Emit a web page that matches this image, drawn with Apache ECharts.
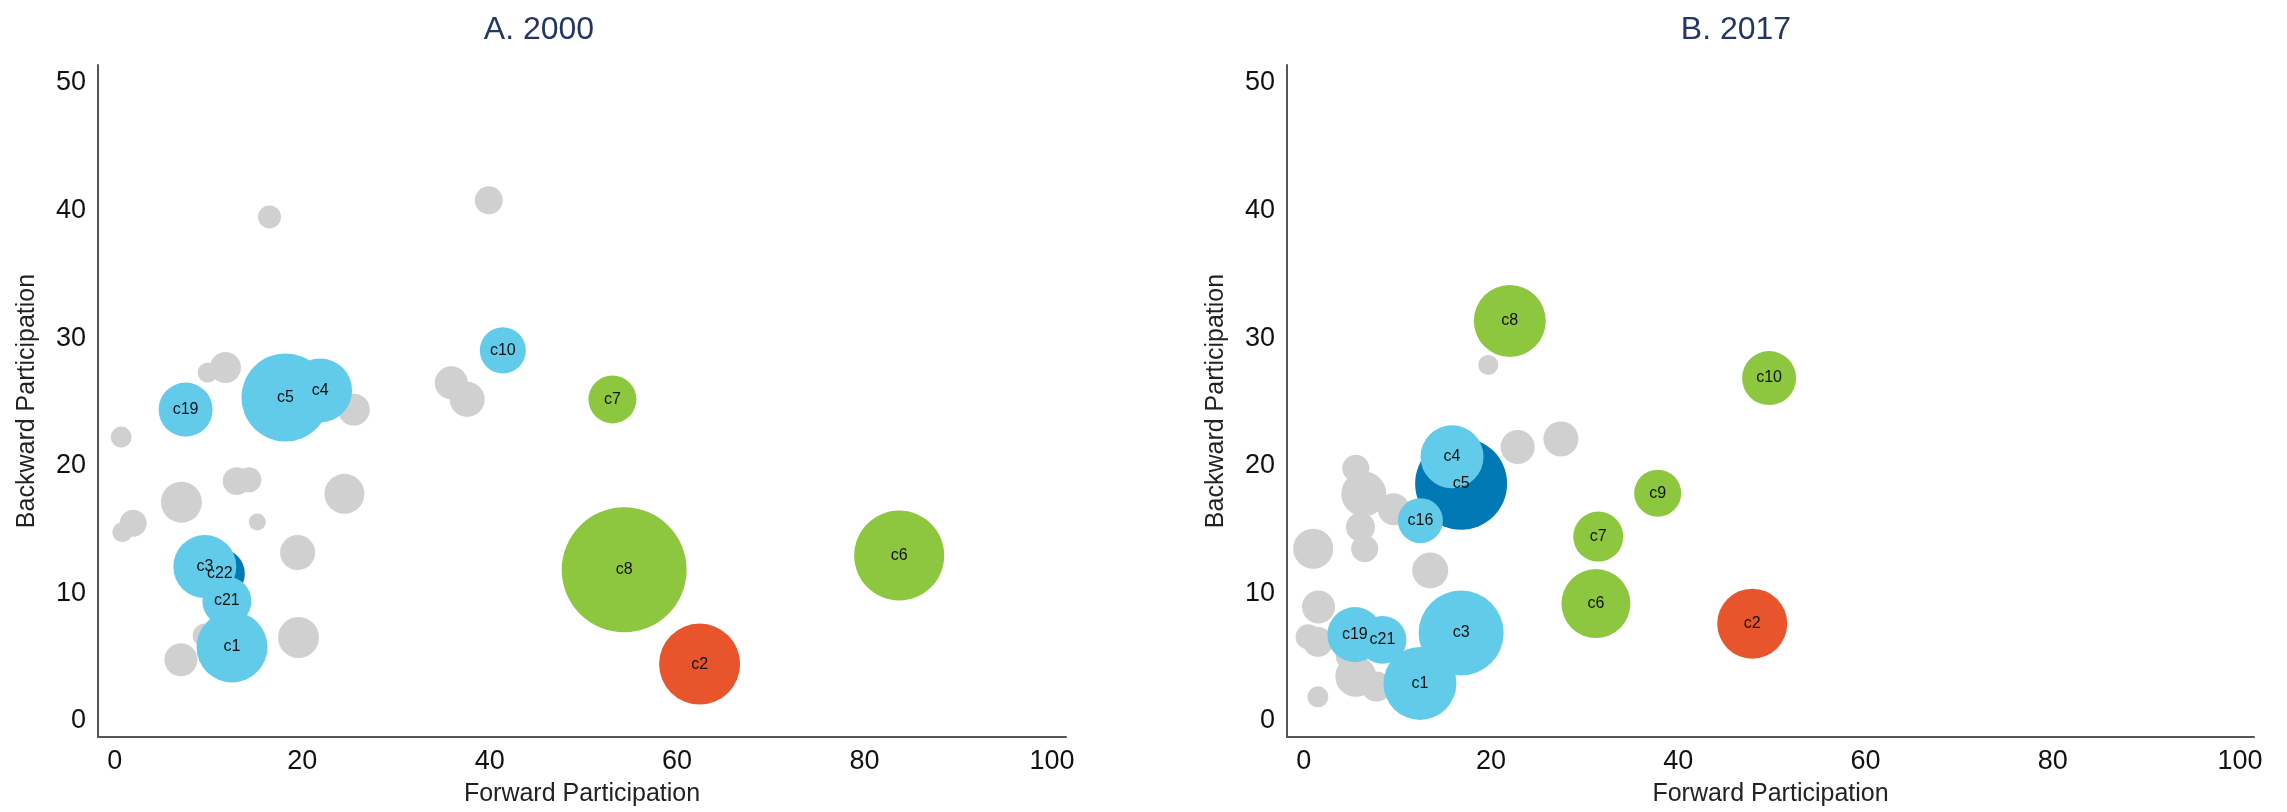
<!DOCTYPE html>
<html>
<head>
<meta charset="utf-8">
<title>Backward vs Forward Participation</title>
<script src="https://cdn.jsdelivr.net/npm/echarts@6/dist/echarts.min.js"></script>
<style>
  html, body { margin: 0; padding: 0; background: #ffffff; }
  #chart { width: 2287px; height: 812px; }
</style>
</head>
<body>
<div id="chart"></div>
<script>
// Panel A: 2000 — highlighted economies
const namesA = ['c22', 'c5', 'c4', 'c19', 'c10', 'c3', 'c21', 'c1', 'c7', 'c8', 'c6', 'c2'];
const fwdA   = [11.2, 18.2, 21.9, 7.55, 41.4, 9.6, 11.95, 12.5, 53.1, 54.35, 83.7, 62.4];
const bwdA   = [11.55, 25.35, 25.9, 24.4, 29.04, 12.1, 9.4, 5.8, 25.2, 11.85, 12.97, 4.46];
const sizeA  = [25, 77.4, 41, 29.2, 21.2, 39.7, 24, 50.4, 23, 156, 81, 65.6];
const groupA = ['dark', 'light', 'light', 'light', 'light', 'light', 'light', 'light', 'green', 'green', 'green', 'red'];

// Panel A: 2000 — other economies
const otherFwdA  = [11.8, 9.9, 25.5, 0.67, 35.9, 37.6, 13.0, 14.3, 7.1, 24.5, 1.95, 0.8, 15.2, 19.5, 19.6, 7.05, 9.6, 16.5, 39.9];
const otherBwdA  = [27.7, 27.3, 24.4, 22.25, 26.5, 25.2, 18.8, 18.9, 17.15, 17.8, 15.5, 14.8, 15.6, 13.2, 6.55, 4.8, 6.7, 39.5, 40.8];
const otherSizeA = [9.6, 4, 10.2, 4.4, 10.9, 12.3, 7.8, 6.3, 16.8, 16, 7.3, 4, 2.9, 12.3, 16.8, 10.9, 5.8, 5.3, 7.8];

// Panel B: 2017 — highlighted economies
const namesB = ['c5', 'c4', 'c16', 'c3', 'c1', 'c19', 'c21', 'c8', 'c10', 'c9', 'c7', 'c6', 'c2'];
const fwdB   = [16.8, 15.83, 12.45, 16.8, 12.4, 5.45, 8.4, 22.0, 49.7, 37.8, 31.45, 31.2, 47.9];
const bwdB   = [18.6, 20.7, 15.7, 6.9, 2.95, 6.77, 6.36, 31.35, 26.87, 17.85, 14.45, 9.2, 7.63];
const sizeB  = [84.6, 39.7, 20.3, 72.3, 53.3, 30.3, 23, 51.8, 29.2, 22.1, 25, 47.6, 49];
const groupB = ['dark', 'light', 'light', 'light', 'light', 'light', 'light', 'green', 'green', 'green', 'green', 'green', 'red'];

// Panel B: 2017 — other economies
const otherFwdB  = [22.84, 27.46, 5.55, 6.4, 9.6, 6.05, 6.5, 1.0, 13.5, 1.57, 0.46, 1.5, 5.55, 7.75, 4.9, 1.5, 19.7];
const otherBwdB  = [21.47, 22.1, 19.8, 17.8, 16.6, 15.2, 13.5, 13.5, 11.8, 8.94, 6.6, 6.2, 3.5, 2.7, 5.1, 1.9, 27.9];
const otherSizeB = [11.6, 12.3, 7.3, 20.3, 10.2, 8.4, 7.3, 16, 13, 10.9, 6.3, 9, 16.8, 9, 7.8, 4.4, 4];

const panelTitles = ['A. 2000', 'B. 2017'];
const xTicks = [0, 20, 40, 60, 80, 100];
const yTicks = [0, 10, 20, 30, 40, 50];

const palette = {
  other: '#d0d0d0',
  light: '#63cbea',
  dark:  '#0079b4',
  green: '#8dc63f',
  red:   '#e8542c'
};
const groupOrder = ['dark', 'light', 'green', 'red'];
const FONT = '"Liberation Sans", Arial, Helvetica, sans-serif';

const bubbleSize = v => 10 * Math.sqrt(v[2]);

function otherSeries(idx, xs, ys, ss) {
  return {
    type: 'scatter',
    xAxisIndex: idx, yAxisIndex: idx,
    symbol: 'circle',
    symbolSize: bubbleSize,
    itemStyle: { color: palette.other, opacity: 1 },
    emphasis: { disabled: true },
    silent: true,
    data: xs.map((x, i) => [x, ys[i], ss[i]])
  };
}

function namedSeries(idx, names, xs, ys, ss, groups) {
  return groupOrder.map(g => ({
    type: 'scatter',
    xAxisIndex: idx, yAxisIndex: idx,
    symbol: 'circle',
    symbolSize: bubbleSize,
    itemStyle: { color: palette[g], opacity: 1 },
    emphasis: { disabled: true },
    silent: true,
    label: {
      show: true,
      position: 'inside',
      formatter: '{b}',
      color: '#111111',
      fontSize: 16,
      fontFamily: FONT
    },
    data: names
      .map((n, i) => ({ name: n, value: [xs[i], ys[i], ss[i]], g: groups[i] }))
      .filter(d => d.g === g)
      .map(d => ({ name: d.name, value: d.value }))
  }));
}

const grids = [
  { left: 98, top: 65, width: 968, height: 679 },
  { left: 1287, top: 65, width: 967, height: 679 }
];

function xAxisFor(idx) {
  return {
    type: 'value', gridIndex: idx,
    min: -1.8, max: 101.5,
    name: 'Forward Participation',
    nameLocation: 'middle', nameGap: 45,
    nameTextStyle: { fontSize: 25, color: '#222222', fontFamily: FONT },
    axisLine: { show: true, onZero: false, lineStyle: { color: '#555555', width: 2 } },
    axisTick: { show: false },
    splitLine: { show: false },
    axisLabel: { customValues: xTicks, fontSize: 27, color: '#111111', margin: 11, fontFamily: FONT }
  };
}

function yAxisFor(idx) {
  return {
    type: 'value', gridIndex: idx,
    min: -1.25, max: 51.4,
    name: 'Backward Participation',
    nameLocation: 'middle', nameGap: 58,
    nameTextStyle: { fontSize: 25, color: '#222222', fontFamily: FONT },
    axisLine: { show: true, onZero: false, lineStyle: { color: '#555555', width: 2 } },
    axisTick: { show: false },
    splitLine: { show: false },
    axisLabel: { customValues: yTicks, fontSize: 27, color: '#111111', margin: 12, fontFamily: FONT }
  };
}

const chart = echarts.init(document.getElementById('chart'), null, { renderer: 'canvas' });
chart.setOption({
  animation: false,
  backgroundColor: '#ffffff',
  title: [
    { text: panelTitles[0], left: 539, top: 14, textAlign: 'center', padding: 0,
      textStyle: { fontSize: 32, fontWeight: 'normal', color: '#233762', fontFamily: FONT } },
    { text: panelTitles[1], left: 1736, top: 14, textAlign: 'center', padding: 0,
      textStyle: { fontSize: 32, fontWeight: 'normal', color: '#233762', fontFamily: FONT } }
  ],
  grid: grids,
  xAxis: [xAxisFor(0), xAxisFor(1)],
  yAxis: [yAxisFor(0), yAxisFor(1)],
  series: [
    otherSeries(0, otherFwdA, otherBwdA, otherSizeA),
    ...namedSeries(0, namesA, fwdA, bwdA, sizeA, groupA),
    otherSeries(1, otherFwdB, otherBwdB, otherSizeB),
    ...namedSeries(1, namesB, fwdB, bwdB, sizeB, groupB)
  ]
});
</script>
</body>
</html>
